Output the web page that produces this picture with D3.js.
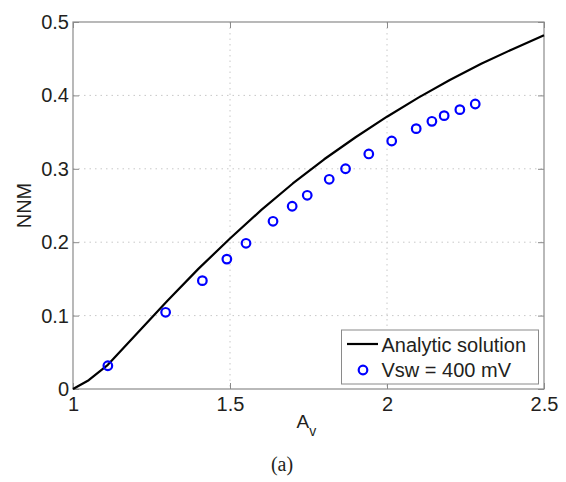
<!DOCTYPE html>
<html>
<head>
<meta charset="utf-8">
<script src="https://cdn.jsdelivr.net/npm/d3@7"></script>
<style>
  html, body { margin: 0; padding: 0; background: #fff; }
  svg text { font-family: "Liberation Sans", Arial, sans-serif; fill: #231f20; }
</style>
</head>
<body>
<svg id="chart" width="566" height="482"></svg>
<script>
// Analytic solution curve
const lineAv  = [1.0, 1.05, 1.111, 1.2, 1.3, 1.4, 1.5, 1.6, 1.7, 1.8, 1.9, 2.0, 2.1, 2.2, 2.3, 2.4, 2.5];
const lineNNM = [0.0, 0.012, 0.033, 0.074, 0.120, 0.164, 0.205, 0.244, 0.280, 0.313, 0.343, 0.371, 0.397, 0.421, 0.443, 0.463, 0.482];
// Measured points, Vsw = 400 mV
const ptAv  = [1.111, 1.295, 1.412, 1.490, 1.551, 1.637, 1.698, 1.746, 1.816, 1.868, 1.942, 2.015, 2.093, 2.143, 2.182, 2.232, 2.281];
const ptNNM = [0.0317, 0.1045, 0.1476, 0.177, 0.1985, 0.2285, 0.249, 0.2639, 0.2857, 0.3001, 0.3202, 0.3379, 0.3547, 0.3647, 0.3724, 0.3806, 0.3883];
const xTicks = [1, 1.5, 2, 2.5];
const xTickLabels = ["1", "1.5", "2", "2.5"];
const yTicks = [0, 0.1, 0.2, 0.3, 0.4, 0.5];
const yTickLabels = ["0", "0.1", "0.2", "0.3", "0.4", "0.5"];
const seriesNames = ["Analytic solution", "Vsw = 400 mV"];

const svg = d3.select("#chart");
const L = 73, R = 544, T = 22, B = 389;
const x = d3.scaleLinear().domain([1, 2.5]).range([L, R]);
const y = d3.scaleLinear().domain([0, 0.5]).range([B, T]);

// grid
const grid = svg.append("g");
grid.selectAll("line.gx").data(xTicks.slice(1, -1)).join("line")
  .attr("x1", d => x(d)).attr("x2", d => x(d)).attr("y1", T).attr("y2", B)
  .attr("stroke", "#c8c8c8").attr("stroke-width", 1).attr("stroke-dasharray", "1.5,4");
grid.selectAll("line.gy").data(yTicks.slice(1, -1)).join("line")
  .attr("y1", d => y(d)).attr("y2", d => y(d)).attr("x1", L).attr("x2", R)
  .attr("stroke", "#c8c8c8").attr("stroke-width", 1).attr("stroke-dasharray", "1.5,4");

// axes (ticks inward)
const axisColor = "#8a8a8a";
function styleAxis(g) {
  g.select(".domain").remove();
  g.selectAll(".tick line").attr("stroke", axisColor);
  g.selectAll(".tick text").style("font-size", "20px").attr("fill", "#231f20");
}
svg.append("g").attr("transform", `translate(0,${B})`)
  .call(d3.axisBottom(x).tickValues(xTicks).tickFormat((d, i) => xTickLabels[i]).tickSizeInner(-6).tickPadding(8))
  .call(styleAxis);
svg.append("g").attr("transform", `translate(${L},0)`)
  .call(d3.axisLeft(y).tickValues(yTicks).tickFormat((d, i) => yTickLabels[i]).tickSizeInner(-6).tickPadding(4))
  .call(styleAxis);
svg.append("g").attr("transform", `translate(0,${T})`)
  .call(d3.axisTop(x).tickValues(xTicks).tickFormat("").tickSizeInner(-6))
  .call(styleAxis);
svg.append("g").attr("transform", `translate(${R},0)`)
  .call(d3.axisRight(y).tickValues(yTicks).tickFormat("").tickSizeInner(-6))
  .call(styleAxis);

svg.append("rect").attr("x", L).attr("y", T).attr("width", R - L).attr("height", B - T)
  .attr("fill", "none").attr("stroke", axisColor).attr("stroke-width", 1.2);

// analytic line
const lineData = lineAv.map((v, i) => [v, lineNNM[i]]);
svg.append("path").datum(lineData)
  .attr("fill", "none").attr("stroke", "#000").attr("stroke-width", 2.2)
  .attr("stroke-linejoin", "round")
  .attr("d", d3.line().x(d => x(d[0])).y(d => y(d[1])).curve(d3.curveLinear));

// points
svg.append("g").selectAll("circle").data(ptAv.map((v, i) => [v, ptNNM[i]])).join("circle")
  .attr("cx", d => x(d[0])).attr("cy", d => y(d[1])).attr("r", 4.3)
  .attr("fill", "none").attr("stroke", "#0000ff").attr("stroke-width", 2.2);

// legend
const lg = svg.append("g");
lg.append("rect").attr("x", 341.5).attr("y", 330).attr("width", 197).attr("height", 54)
  .attr("fill", "#fff").attr("stroke", axisColor).attr("stroke-width", 1);
lg.append("line").attr("x1", 347).attr("x2", 378).attr("y1", 344).attr("y2", 344)
  .attr("stroke", "#000").attr("stroke-width", 2.2);
lg.append("circle").attr("cx", 363).attr("cy", 370).attr("r", 4.3)
  .attr("fill", "none").attr("stroke", "#0000ff").attr("stroke-width", 2.2);
lg.append("text").attr("x", 381.5).attr("y", 351.5).style("font-size", "20px").text(seriesNames[0]);
lg.append("text").attr("x", 381.5).attr("y", 377).style("font-size", "20px").text(seriesNames[1]);

// axis labels
svg.append("text").attr("transform", `translate(31,${(T + B) / 2}) rotate(-90)`)
  .attr("text-anchor", "middle").style("font-size", "20px").text("NNM");
const xl = svg.append("text").attr("x", 296.5).attr("y", 428).style("font-size", "19px");
xl.append("tspan").text("A");
xl.append("tspan").attr("dy", 8).style("font-size", "14px").text("v");

// caption
svg.append("text").attr("x", 282).attr("y", 471).attr("text-anchor", "middle")
  .style("font-family", "'Liberation Serif', 'Times New Roman', serif").style("font-size", "20px").text("(a)");
</script>
</body>
</html>
